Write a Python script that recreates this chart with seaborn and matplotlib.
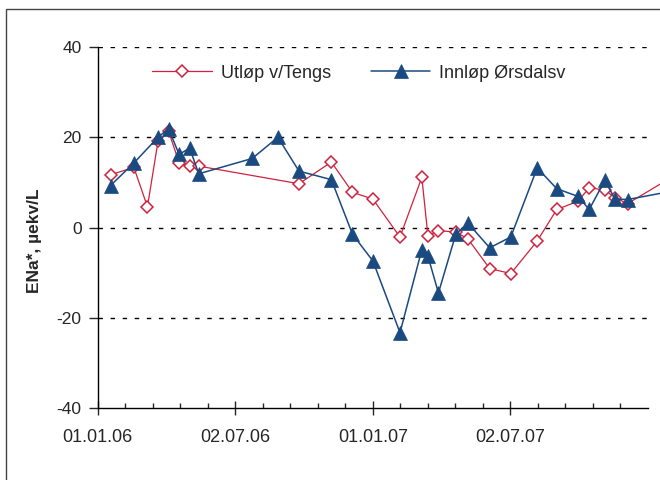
import numpy as np
import pandas as pd
import matplotlib
matplotlib.use("Agg")
import matplotlib.pyplot as plt
import matplotlib.dates as mdates
from matplotlib.ticker import FixedLocator
from matplotlib.patches import Rectangle
import seaborn as sns

# Data
utlop_dates = ["2006-01-18", "2006-02-18", "2006-03-08", "2006-03-22", "2006-04-05",
               "2006-04-19", "2006-05-03", "2006-05-15", "2006-09-25", "2006-11-07",
               "2006-12-05", "2007-01-01", "2007-02-06", "2007-03-07", "2007-03-15",
               "2007-03-29", "2007-04-21", "2007-05-07", "2007-06-05", "2007-07-03",
               "2007-08-07", "2007-09-02", "2007-09-30", "2007-10-15", "2007-11-05",
               "2007-11-18", "2007-12-05", "2008-01-31"]
utlop_values = [11.7, 13.3, 4.6, 19.1, 21.3, 14.4, 13.6, 13.6, 9.7, 14.5,
                7.8, 6.3, -2.1, 11.1, -1.8, -0.7, -1.0, -2.5, -9.1, -10.2,
                -3.0, 4.0, 5.8, 8.8, 8.3, 6.6, 5.3, 11.0]

innlop_dates = ["2006-01-18", "2006-02-18", "2006-03-22", "2006-04-05", "2006-04-19",
                "2006-05-03", "2006-05-15", "2006-07-25", "2006-08-28", "2006-09-25",
                "2006-11-07", "2006-12-05", "2007-01-01", "2007-02-06", "2007-03-07",
                "2007-03-15", "2007-03-29", "2007-04-21", "2007-05-07", "2007-06-05",
                "2007-07-03", "2007-08-07", "2007-09-02", "2007-09-30", "2007-10-15",
                "2007-11-05", "2007-11-18", "2007-12-05", "2008-01-31"]
innlop_values = [9.3, 14.3, 20.0, 21.9, 16.2, 17.6, 11.9, 15.3, 20.0, 12.5,
                 10.6, -1.5, -7.4, -23.3, -4.9, -6.3, -14.5, -1.5, 1.0, -4.5,
                 -2.1, 13.2, 8.6, 6.9, 4.0, 10.5, 6.3, 6.2, 8.0]

series_names = ["Utløp v/Tengs", "Innløp Ørsdalsv"]
y_label = "ENa*, µekv/L"
y_ticks = [-40, -20, 0, 20, 40]

red = "#D0213D"
blue = "#1A4A80"

df_ut = pd.DataFrame({"date": pd.to_datetime(utlop_dates), "value": utlop_values})
df_inn = pd.DataFrame({"date": pd.to_datetime(innlop_dates), "value": innlop_values})

sns.set_style("white")
plt.rcParams["font.family"] = ["Liberation Sans", "DejaVu Sans"]
plt.rcParams["axes.unicode_minus"] = False

fig = plt.figure(figsize=(6.6, 4.8), dpi=100)
ax = fig.add_axes([97.7 / 660, 1 - 408 / 480, 550.3 / 660, 361 / 480])

sns.lineplot(data=df_ut, x="date", y="value", ax=ax, estimator=None, sort=False,
             color=red, lw=0.9, marker="D", markersize=6.4,
             markerfacecolor="white", markeredgecolor=red, markeredgewidth=1.1,
             clip_on=False, label=series_names[0], zorder=3)
sns.lineplot(data=df_inn, x="date", y="value", ax=ax, estimator=None, sort=False,
             color=blue, lw=1.1, marker="^", markersize=10.5,
             markerfacecolor=blue, markeredgecolor=blue, markeredgewidth=0.5,
             clip_on=False, label=series_names[1], zorder=4)

# x axis: Excel style serial axis, 182.5 day major / 36.5 day minor
start = mdates.date2num(pd.Timestamp("2006-01-01"))
ax.set_xlim(start, start + 730)
ax.xaxis.set_major_locator(FixedLocator(start + np.arange(0, 730, 182.5)))
ax.xaxis.set_minor_locator(FixedLocator(start + np.arange(0, 730, 36.5)))
ax.xaxis.set_major_formatter(mdates.DateFormatter("%d.%m.%y"))

ax.set_ylim(-40, 40)
ax.set_yticks(y_ticks)
for y in y_ticks[1:]:
    ax.axhline(y, color="black", lw=1, ls=(0, (3.2, 5.5)), zorder=1)

ax.set_xlabel("")
ax.set_ylabel(y_label, fontsize=12.5, fontweight="bold")
ax.yaxis.set_label_coords(-0.101, 0.463)

ax.tick_params(axis="y", direction="out", length=6.5, width=1, labelsize=12.5, pad=5, left=True)
ax.tick_params(axis="x", which="major", direction="inout", length=10, width=1,
               labelsize=13, pad=10, bottom=True)
ax.tick_params(axis="x", which="minor", direction="in", length=3.6, width=1, bottom=True)

for side in ["top", "right"]:
    ax.spines[side].set_visible(False)
for side in ["left", "bottom"]:
    ax.spines[side].set_color("black")
    ax.spines[side].set_linewidth(1)

ax.legend(loc="center", bbox_to_anchor=(359 / 660, 1 - 73.3 / 480),
          bbox_transform=fig.transFigure, ncol=2, frameon=False, fontsize=13,
          handlelength=3.3, handletextpad=0.5, columnspacing=2.2)

# outer chart frame (right and bottom edges fall outside the picture)
fig.patches.append(Rectangle((6 / 660, -0.1), 1.2, 1.1 - 9 / 480, fill=False,
                             edgecolor="#444444", lw=1, transform=fig.transFigure))

fig.savefig("out.png", dpi=100)
